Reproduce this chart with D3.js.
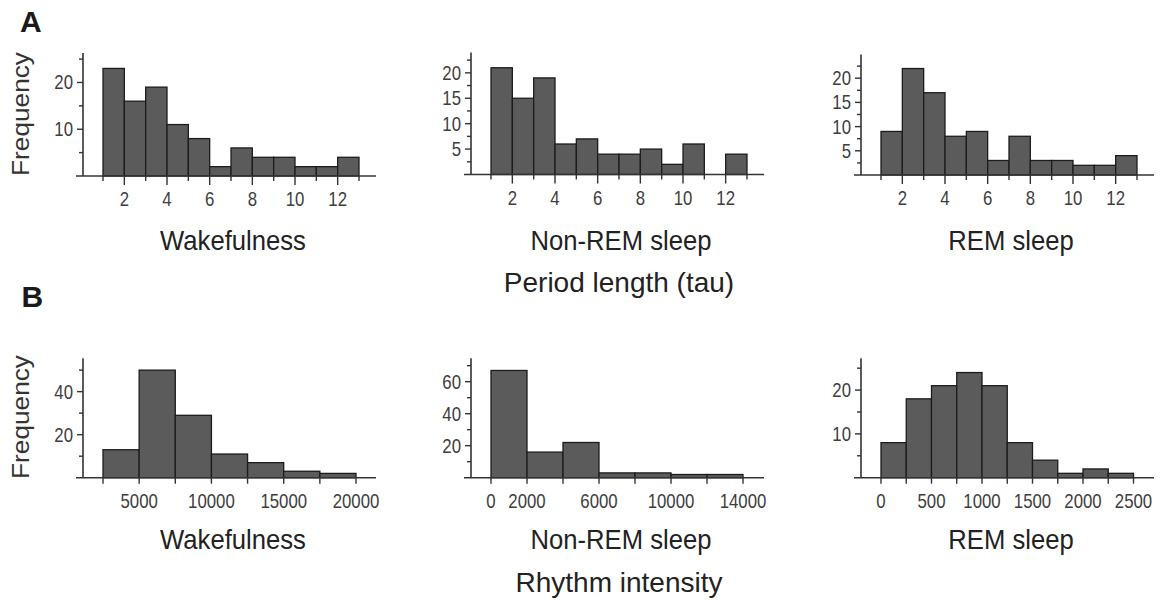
<!DOCTYPE html>
<html><head><meta charset="utf-8">
<script src="https://cdn.jsdelivr.net/npm/d3@7"></script>
<style>body{margin:0;background:#fff}</style>
</head><body>
<svg id="chart" width="1164" height="600"></svg>
<script>
// ---------- data ----------
const stateNames = ["Wakefulness", "Non-REM sleep", "REM sleep"];
const rowTitles = ["Period length (tau)", "Rhythm intensity"];
const panelLetters = ["A", "B"];

// Period length histograms (bins of width 1 from 1 to 13)
const tauBinStart = 1, tauBinWidth = 1;
const wakeTau = [23, 16, 19, 11, 8, 2, 6, 4, 4, 2, 2, 4];
const nremTau = [21, 15, 19, 6, 7, 4, 4, 5, 2, 6, 0, 4];
const remTau  = [9, 22, 17, 8, 9, 3, 8, 3, 3, 2, 2, 4];
const tauXTicks = [2, 4, 6, 8, 10, 12];
const tauXMinor = [1, 3, 5, 7, 9, 11, 13];

// Rhythm intensity histograms
const wakeIntStart = 2500, wakeIntWidth = 2500;
const wakeInt = [13, 50, 29, 11, 7, 3, 2];
const wakeIntXTicks = [5000, 10000, 15000, 20000];
const wakeIntXMinor = [2500, 7500, 12500, 17500];

const nremIntStart = 0, nremIntWidth = 2000;
const nremInt = [67, 16, 22, 3, 3, 2, 2];
const nremIntXTicks = [0, 2000, 6000, 10000, 14000];
const nremIntXMinor = [4000, 8000, 12000];

const remIntStart = 0, remIntWidth = 250;
const remInt = [8, 18, 21, 24, 21, 8, 4, 1, 2, 1];
const remIntXTicks = [0, 500, 1000, 1500, 2000, 2500];
const remIntXMinor = [250, 750, 1250, 1750, 2250];

// y ticks
const yTicksA1 = [10, 20], yMinorA1 = [5, 15, 25];
const yTicksA2 = [5, 10, 15, 20], yMinorA2 = [2.5, 7.5, 12.5, 17.5, 22.5];
const yTicksA3 = [5, 10, 15, 20], yMinorA3 = [2.5, 7.5, 12.5, 17.5, 22.5];
const yTicksB1 = [20, 40], yMinorB1 = [10, 30, 50];
const yTicksB2 = [20, 40, 60], yMinorB2 = [10, 30, 50, 70];
const yTicksB3 = [10, 20], yMinorB3 = [5, 15, 25];

// ---------- layout ----------
const colAxisX = [83, 471, 861];
const panels = [
  {row:0, col:0, counts:wakeTau, start:tauBinStart, width:tauBinWidth, xDom:[1,13], xTicks:tauXTicks, xMinor:tauXMinor, yTicks:yTicksA1, yMinor:yMinorA1, yMax:26.3, base:176, top:53, majorLong:true, barEnd:276},
  {row:0, col:1, counts:nremTau, start:tauBinStart, width:tauBinWidth, xDom:[1,13], xTicks:tauXTicks, xMinor:tauXMinor, yTicks:yTicksA2, yMinor:yMinorA2, yMax:24.0, base:174.5, top:52.5, majorLong:true, barEnd:276},
  {row:0, col:2, counts:remTau, start:tauBinStart, width:tauBinWidth, xDom:[1,13], xTicks:tauXTicks, xMinor:tauXMinor, yTicks:yTicksA3, yMinor:yMinorA3, yMax:24.9, base:175, top:54.5, majorLong:true, barEnd:276},
  {row:1, col:0, counts:wakeInt, start:wakeIntStart, width:wakeIntWidth, xDom:[2500,20000], xTicks:wakeIntXTicks, xMinor:wakeIntXMinor, yTicks:yTicksB1, yMinor:yMinorB1, yMax:55.5, base:477.7, top:358.3, majorLong:false, barEnd:273},
  {row:1, col:1, counts:nremInt, start:nremIntStart, width:nremIntWidth, xDom:[0,14000], xTicks:nremIntXTicks, xMinor:nremIntXMinor, yTicks:yTicksB2, yMinor:yMinorB2, yMax:74.6, base:477.7, top:358.3, majorLong:false, barEnd:272},
  {row:1, col:2, counts:remInt, start:remIntStart, width:remIntWidth, xDom:[0,2500], xTicks:remIntXTicks, xMinor:remIntXMinor, yTicks:yTicksB3, yMinor:yMinorB3, yMax:27.25, base:477.7, top:358.3, majorLong:false, barEnd:272.5}
];

const svg = d3.select("#chart");
const FONT = "'Liberation Sans', Arial, Helvetica, sans-serif";
const axisColor = "#333";
const tickTextColor = "#3d3d3d";

panels.forEach(p => {
  const ax = colAxisX[p.col];
  const x = d3.scaleLinear().domain(p.xDom).range([ax + 20, ax + p.barEnd]);
  const y = d3.scaleLinear().domain([0, p.yMax]).range([p.base, p.top]);
  const g = svg.append("g");

  const bins = p.counts.map((c, i) => ({x0: p.start + i * p.width, x1: p.start + (i + 1) * p.width, c}));
  g.selectAll("rect.bar").data(bins.filter(b => b.c > 0)).join("rect")
    .attr("class", "bar")
    .attr("x", d => x(d.x0))
    .attr("width", d => x(d.x1) - x(d.x0))
    .attr("y", d => y(d.c))
    .attr("height", d => y(0) - y(d.c))
    .attr("fill", "#5b5b5b")
    .attr("stroke", "#1c1c1c")
    .attr("stroke-width", 1.3);

  // axis lines
  g.append("line").attr("x1", ax - 7).attr("x2", ax + 293).attr("y1", y(0)).attr("y2", y(0))
    .attr("stroke", axisColor).attr("stroke-width", 1.6);
  g.append("line").attr("x1", ax).attr("x2", ax).attr("y1", p.top).attr("y2", y(0))
    .attr("stroke", axisColor).attr("stroke-width", 1.6);

  // x ticks
  const majLen = p.majorLong ? 9 : 6, minLen = p.majorLong ? 5 : 6;
  g.selectAll("line.xmaj").data(p.xTicks).join("line")
    .attr("x1", d => x(d)).attr("x2", d => x(d)).attr("y1", y(0)).attr("y2", y(0) + majLen)
    .attr("stroke", axisColor).attr("stroke-width", 1.4);
  g.selectAll("line.xmin").data(p.xMinor).join("line")
    .attr("x1", d => x(d)).attr("x2", d => x(d)).attr("y1", y(0)).attr("y2", y(0) + minLen)
    .attr("stroke", axisColor).attr("stroke-width", 1.4);
  g.selectAll("text.xl").data(p.xTicks).join("text")
    .attr("transform", d => `translate(${x(d)},${y(0) + 30}) scale(0.84,1)`)
    .attr("text-anchor", "middle")
    .attr("font-family", FONT).attr("font-size", 20).attr("fill", tickTextColor)
    .text(d => d);

  // y ticks
  g.selectAll("line.ymaj").data(p.yTicks).join("line")
    .attr("x1", ax - 6).attr("x2", ax).attr("y1", d => y(d)).attr("y2", d => y(d))
    .attr("stroke", axisColor).attr("stroke-width", 1.4);
  g.selectAll("line.ymin").data(p.yMinor).join("line")
    .attr("x1", ax - 4).attr("x2", ax).attr("y1", d => y(d)).attr("y2", d => y(d))
    .attr("stroke", axisColor).attr("stroke-width", 1.4);
  g.selectAll("text.yl").data(p.yTicks).join("text")
    .attr("transform", d => `translate(${ax - 10},${y(d) + 7}) scale(0.84,1)`)
    .attr("text-anchor", "end")
    .attr("font-family", FONT).attr("font-size", 20).attr("fill", tickTextColor)
    .text(d => d);

  // state label
  svg.append("text")
    .attr("transform", `translate(${ax + 150},${p.row === 0 ? 250 : 549}) scale(0.95,1)`)
    .attr("text-anchor", "middle")
    .attr("font-family", FONT).attr("font-size", 27).attr("fill", "#222")
    .text(stateNames[p.col]);
});

// row titles
[292, 592].forEach((yy, i) => {
  svg.append("text")
    .attr("transform", `translate(619,${yy}) scale(1.0,1)`)
    .attr("text-anchor", "middle")
    .attr("font-family", FONT).attr("font-size", 28).attr("fill", "#222")
    .text(rowTitles[i]);
});

// Frequency labels
[114, 417].forEach(cy => {
  svg.append("text")
    .attr("transform", `translate(29,${cy}) rotate(-90) scale(1.14,1)`)
    .attr("text-anchor", "middle")
    .attr("font-family", FONT).attr("font-size", 23).attr("fill", "#333")
    .text("Frequency");
});

// panel letters
[[20, 31.7], [21.5, 306.7]].forEach((pos, i) => {
  svg.append("text")
    .attr("x", pos[0]).attr("y", pos[1])
    .attr("font-family", FONT).attr("font-size", 30).attr("font-weight", "bold").attr("fill", "#1a1a1a")
    .text(panelLetters[i]);
});
</script>
</body></html>
